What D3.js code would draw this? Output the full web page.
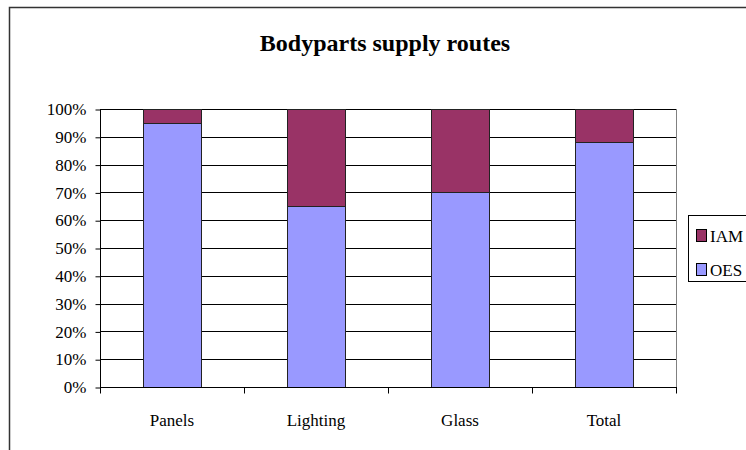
<!DOCTYPE html>
<html>
<head>
<meta charset="utf-8">
<script src="https://cdn.jsdelivr.net/npm/d3@7/dist/d3.min.js"></script>
<style>
  html, body { margin: 0; padding: 0; background: #fff; }
  svg { display: block; }
</style>
</head>
<body>
<svg id="chart" width="746" height="450"></svg>
<script>
const title = "Bodyparts supply routes";
const categories = ["Panels", "Lighting", "Glass", "Total"];
const seriesNames = ["OES", "IAM"];
const oesValues = [95, 65, 70, 88];
const iamValues = [5, 35, 30, 12];
const yTicks = [0, 10, 20, 30, 40, 50, 60, 70, 80, 90, 100];
const colors = { OES: "#9999FF", IAM: "#993366" };

const FONT = "'Liberation Serif', 'Times New Roman', serif";
const svg = d3.select("#chart");
const plot = { left: 100, right: 676, top: 109, bottom: 387 };

// outer chart frame
svg.append("rect")
  .attr("x", 9.5).attr("y", 7.5).attr("width", 800).attr("height", 500)
  .attr("fill", "#fff").attr("stroke", "#333").attr("stroke-width", 1.5);

svg.append("text")
  .attr("x", 385).attr("y", 51)
  .attr("text-anchor", "middle")
  .style("font-family", FONT).style("font-size", "24px").style("font-weight", "bold")
  .attr("fill", "#000")
  .text(title);

const x = d3.scaleBand().domain(categories)
  .range([plot.left, plot.right]).paddingInner(0.6).paddingOuter(0.3);
const y = d3.scaleLinear().domain([0, 100]).range([plot.bottom, plot.top]);

// gridlines
svg.append("g").selectAll("line").data(yTicks.filter(d => d > 0)).join("line")
  .attr("x1", plot.left).attr("x2", plot.right)
  .attr("y1", d => Math.round(y(d)) + 0.5).attr("y2", d => Math.round(y(d)) + 0.5)
  .attr("stroke", "#000").attr("stroke-width", 1);

// right border
svg.append("line").attr("x1", plot.right + 0.5).attr("x2", plot.right + 0.5)
  .attr("y1", plot.top).attr("y2", plot.bottom).attr("stroke", "#808080");

// stacked bars
const data = categories.map((c, i) => ({ cat: c, OES: oesValues[i], IAM: iamValues[i] }));
const stack = d3.stack().keys(seriesNames)(data);
svg.append("g").selectAll("g").data(stack).join("g")
  .attr("fill", d => colors[d.key])
  .selectAll("rect").data(d => d).join("rect")
  .attr("x", d => Math.round(x(d.data.cat)) + 0.5)
  .attr("width", Math.round(x.bandwidth()))
  .attr("y", d => Math.round(y(d[1])) + 0.5)
  .attr("height", d => Math.round(y(d[0])) - Math.round(y(d[1])))
  .attr("stroke", "#222").attr("stroke-width", 1);

// y axis
const yAxis = d3.axisLeft(y).tickValues(yTicks).tickFormat(d => d + "%").tickSize(5).tickPadding(9);
const gy = svg.append("g").attr("transform", `translate(${plot.left + 0.5},0.5)`).call(yAxis);
gy.attr("font-family", null).attr("font-size", null);
gy.select(".domain").attr("stroke", "#000").attr("d", `M0,${plot.top}V${plot.bottom}`);
gy.selectAll(".tick line").attr("stroke", "#000");
gy.selectAll(".tick text")
  .style("font-family", FONT).style("font-size", "17px").attr("fill", "#000").attr("dy", "0.3em");

// x axis
const gx = svg.append("g").attr("transform", `translate(0,${plot.bottom + 0.5})`);
gx.append("line").attr("x1", plot.left).attr("x2", plot.right + 1).attr("stroke", "#000");
const bounds = d3.range(categories.length + 1).map(i => plot.left + i * x.step());
gx.selectAll(".xt").data(bounds).join("line").attr("class", "xt")
  .attr("x1", d => Math.round(d) + 0.5).attr("x2", d => Math.round(d) + 0.5)
  .attr("y1", 0).attr("y2", 6).attr("stroke", "#000");
gx.selectAll(".xl").data(categories).join("text").attr("class", "xl")
  .attr("x", d => x(d) + x.bandwidth() / 2).attr("y", 38)
  .attr("text-anchor", "middle")
  .style("font-family", FONT).style("font-size", "17px").attr("fill", "#000")
  .text(d => d);

// legend
const lg = svg.append("g");
lg.append("rect").attr("x", 688.5).attr("y", 215.5).attr("width", 100).attr("height", 66)
  .attr("fill", "#fff").attr("stroke", "#000");
const legendItems = ["IAM", "OES"];
legendItems.forEach((k, i) => {
  const yy = 229 + i * 34;
  lg.append("rect").attr("x", 696.5).attr("y", yy + 0.5).attr("width", 10).attr("height", 12)
    .attr("fill", colors[k]).attr("stroke", "#000");
  lg.append("text").attr("x", 710).attr("y", yy + 13)
    .style("font-family", FONT).style("font-size", "17px").attr("fill", "#000")
    .text(k);
});
</script>
</body>
</html>
